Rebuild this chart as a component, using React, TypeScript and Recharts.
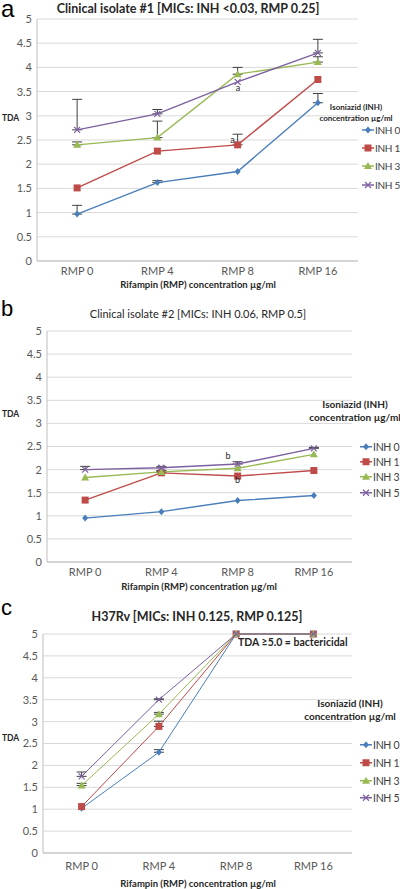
import React from 'react';
import { LineChart, Line, XAxis, YAxis, CartesianGrid, ErrorBar, ReferenceDot } from 'recharts';

// shared categories / series
const categories = ['RMP 0', 'RMP 4', 'RMP 8', 'RMP 16'];
const seriesNames = ['INH 0', 'INH 1', 'INH 3', 'INH 5'];
const yTicks = [0, 0.5, 1, 1.5, 2, 2.5, 3, 3.5, 4, 4.5, 5];

// panel a - clinical isolate #1
const iso1Inh0 = [0.97, 1.62, 1.85, 3.27];
const iso1Inh1 = [1.51, 2.27, 2.4, 3.75];
const iso1Inh3 = [2.4, 2.55, 3.86, 4.11];
const iso1Inh5 = [2.71, 3.04, 3.7, 4.3];
const iso1Err0 = [0.18, 0.04, null, 0.19];
const iso1Err1 = [null, null, 0.22, null];
const iso1Err3 = [0.06, 0.34, 0.14, 0.11];
const iso1Err5 = [0.63, 0.09, null, 0.28];

// panel b - clinical isolate #2
const iso2Inh0 = [0.95, 1.09, 1.33, 1.44];
const iso2Inh1 = [1.34, 1.93, 1.86, 1.98];
const iso2Inh3 = [1.83, 1.95, 2.03, 2.33];
const iso2Inh5 = [2.0, 2.04, 2.12, 2.46];
const iso2Err0 = [null, null, null, null];
const iso2Err1 = [null, 0.03, null, null];
const iso2Err3 = [null, 0.03, null, null];
const iso2Err5 = [0.07, 0.03, 0.05, 0.02];

// panel c - H37Rv
const h37Inh0 = [1.02, 2.3, 5, 5];
const h37Inh1 = [1.06, 2.89, 5, 5];
const h37Inh3 = [1.54, 3.17, 5, 5];
const h37Inh5 = [1.75, 3.5, 5, 5];
const h37Err0 = [null, 0.06, null, null];
const h37Err1 = [null, 0.12, null, null];
const h37Err3 = [0.05, 0.04, null, null];
const h37Err5 = [0.1, 0.02, null, null];

const colors = ['#4a7ebb', '#be4b48', '#98b954', '#7d60a0'];
const FONT = 'Lato, "Liberation Sans", sans-serif';

type Err = (number | null)[];

const buildRows = (values: number[][], errors: Err[]) =>
  categories.map((cat, i) => {
    const row: any = { cat };
    values.forEach((v, s) => {
      row[`s${s}`] = v[i];
      const e = errors[s][i];
      row[`e${s}`] = e == null ? null : [0, e];
    });
    return row;
  });

const markerShape = (kind: number, cx: number, cy: number, color: string, key?: string) => {
  if (kind === 0)
    return <path key={key} d={`M${cx},${cy - 3.5}L${cx + 3},${cy}L${cx},${cy + 3.5}L${cx - 3},${cy}Z`} fill={color} />;
  if (kind === 1) return <rect key={key} x={cx - 3.5} y={cy - 3.5} width={7} height={7} fill={color} />;
  if (kind === 2) return <path key={key} d={`M${cx},${cy - 4}L${cx + 4},${cy + 3}L${cx - 4},${cy + 3}Z`} fill={color} />;
  return (
    <path
      key={key}
      d={`M${cx - 3},${cy - 3}L${cx + 3},${cy + 3}M${cx - 3},${cy + 3}L${cx + 3},${cy - 3}`}
      stroke={color}
      strokeWidth={1.2}
    />
  );
};

type TextProps = { x: number; y: number; style?: React.CSSProperties; children: React.ReactNode };

const Centered: React.FC<TextProps> = ({ x, y, style, children }) => (
  <div
    style={{
      position: 'absolute',
      left: x,
      top: y,
      transform: 'translate(-50%, -50%)',
      whiteSpace: 'nowrap',
      lineHeight: 1,
      ...style,
    }}
  >
    {children}
  </div>
);

const LeftText: React.FC<TextProps> = ({ x, y, style, children }) => (
  <div
    style={{ position: 'absolute', left: x, top: y, transform: 'translateY(-50%)', whiteSpace: 'nowrap', lineHeight: 1, ...style }}
  >
    {children}
  </div>
);

// big panel letter, top = top of a 14px line box
const PanelLetter: React.FC<{ top: number; size: number; children: React.ReactNode }> = ({ top, size, children }) => (
  <div
    style={{
      position: 'absolute',
      left: 1,
      top,
      fontSize: size,
      lineHeight: '14px',
      height: 14,
      fontFamily: '"Liberation Sans", sans-serif',
      color: '#000',
    }}
  >
    {children}
  </div>
);

interface PanelProps {
  top: number;
  plotTop: number;
  plotBottom: number;
  plotLeft: number;
  plotRight: number;
  tickGap: number;
  tickMarginY: number;
  strokeWidth: number;
  values: number[][];
  errors: Err[];
  children?: React.ReactNode;
}

const Panel: React.FC<PanelProps> = ({
  top,
  plotTop,
  plotBottom,
  plotLeft,
  plotRight,
  tickGap,
  tickMarginY,
  strokeWidth,
  values,
  errors,
  children,
}) => {
  const rows = buildRows(values, errors);
  const xAxisHeight = 20;
  const height = plotBottom - top + xAxisHeight;
  // excel-like: categories sit in the middle of equal bands
  const halfBand = (plotRight - plotLeft) / categories.length / 2;
  return (
    <div style={{ position: 'absolute', left: 0, top }}>
      <LineChart
        width={400}
        height={height}
        data={rows}
        margin={{ top: plotTop - top, right: 400 - plotRight, left: 0, bottom: 0 }}
      >
        <CartesianGrid vertical={false} stroke="#d9d9d9" />
        <XAxis
          dataKey="cat"
          height={xAxisHeight}
          padding={{ left: halfBand, right: halfBand }}
          tickLine={false}
          tickSize={0}
          tickMargin={tickGap}
          axisLine={{ stroke: '#bfbfbf' }}
          tick={{ fill: '#595959', fontSize: 11, fontFamily: FONT }}
        />
        <YAxis
          width={plotLeft}
          domain={[0, 5]}
          ticks={yTicks}
          interval={0}
          tickLine={false}
          tickSize={0}
          tickMargin={tickMarginY}
          axisLine={{ stroke: '#bfbfbf' }}
          tick={{ fill: '#595959', fontSize: 11, fontFamily: FONT }}
        />
        {seriesNames.map((name, s) => (
          <Line
            key={name}
            name={name}
            dataKey={`s${s}`}
            type="linear"
            stroke={colors[s]}
            strokeWidth={strokeWidth}
            isAnimationActive={false}
            dot={(p: any) => markerShape(s, p.cx, p.cy, colors[s], `${name}-${p.index}`)}
            activeDot={false}
          >
            <ErrorBar dataKey={`e${s}`} direction="y" width={5} stroke="#404040" strokeWidth={1} />
          </Line>
        ))}
        {children}
      </LineChart>
    </div>
  );
};

const Legend: React.FC<{ titleX: number; titleY: number[]; titleSize: number; items: number[]; lineX: number; textSize: number }> = ({
  titleX,
  titleY,
  titleSize,
  items,
  lineX,
  textSize,
}) => (
  <>
    <Centered x={titleX} y={titleY[0]} style={{ fontSize: titleSize, fontWeight: 700, color: '#262626' }}>
      Isoniazid (INH)
    </Centered>
    <Centered x={titleX} y={titleY[1]} style={{ fontSize: titleSize, fontWeight: 700, color: '#262626' }}>
      concentration µg/ml
    </Centered>
    {seriesNames.map((name, s) => (
      <LeftText
        key={name}
        x={lineX}
        y={items[s]}
        style={{ fontSize: textSize, letterSpacing: -0.3, color: '#404040', display: 'flex', alignItems: 'center' }}
      >
        <svg width={12} height={10} style={{ marginRight: 1 }}>
          <line x1={0} x2={12} y1={5} y2={5} stroke={colors[s]} strokeWidth={1.5} />
          {markerShape(s, 6, 5, colors[s])}
        </svg>
        {name}
      </LeftText>
    ))}
  </>
);

const annoLabel = (value: string, position: any, offset = 0) => ({
  value,
  position,
  offset,
  fill: '#262626',
  fontSize: 9,
  fontFamily: FONT,
});

const App: React.FC = () => (
  <div
    style={{
      position: 'absolute',
      left: 0,
      top: 0,
      width: 400,
      height: 889,
      overflow: 'hidden',
      background: '#fff',
      fontFamily: FONT,
      color: '#262626',
    }}
  >
    {/* panel a */}
    <Panel
      top={0}
      plotTop={19}
      plotBottom={261}
      plotLeft={37}
      plotRight={358}
      tickGap={6}
      tickMarginY={5}
      strokeWidth={1.4}
      values={[iso1Inh0, iso1Inh1, iso1Inh3, iso1Inh5]}
      errors={[iso1Err0, iso1Err1, iso1Err3, iso1Err5]}
    >
      <ReferenceDot x="RMP 8" y={3.57} r={0} fill="none" stroke="none" label={annoLabel('a', 'right', -2)} />
      <ReferenceDot x="RMP 8" y={2.5} r={0} fill="none" stroke="none" label={annoLabel('a', 'left', 3)} />
    </Panel>
    <PanelLetter top={2} size={24}>a</PanelLetter>
    <Centered x={188} y={9} style={{ fontSize: 12.5, fontWeight: 700 }}>
      Clinical isolate #1 [MICs: INH &lt;0.03, RMP 0.25]
    </Centered>
    <Centered x={198} y={285} style={{ fontSize: 9.5, fontWeight: 700 }}>
      Rifampin (RMP) concentration µg/ml
    </Centered>
    <LeftText x={2} y={118} style={{ fontSize: 8.5, fontWeight: 700 }}>TDA</LeftText>
    <Legend titleX={356} titleY={[107, 118]} titleSize={8} items={[130, 148, 166, 185]} lineX={362} textSize={10} />

    {/* panel b */}
    <Panel
      top={300}
      plotTop={331}
      plotBottom={562}
      plotLeft={47}
      plotRight={352}
      tickGap={6}
      tickMarginY={5}
      strokeWidth={1.4}
      values={[iso2Inh0, iso2Inh1, iso2Inh3, iso2Inh5]}
      errors={[iso2Err0, iso2Err1, iso2Err3, iso2Err5]}
    >
      <ReferenceDot x="RMP 8" y={2.29} r={0} fill="none" stroke="none" label={annoLabel('b', 'left', 7)} />
      <ReferenceDot x="RMP 8" y={1.77} r={0} fill="none" stroke="none" label={annoLabel('b', 'center')} />
    </Panel>
    <PanelLetter top={302} size={22}>b</PanelLetter>
    <Centered x={198} y={313} style={{ fontSize: 11 }}>
      Clinical isolate #2 [MICs: INH 0.06, RMP 0.5]
    </Centered>
    <Centered x={199} y={587} style={{ fontSize: 9.5, fontWeight: 700 }}>
      Rifampin (RMP) concentration µg/ml
    </Centered>
    <LeftText x={2} y={414} style={{ fontSize: 8.5, fontWeight: 700 }}>TDA</LeftText>
    <Legend titleX={355} titleY={[404, 417]} titleSize={10} items={[447, 462, 477, 493]} lineX={360} textSize={10.5} />

    {/* panel c */}
    <Panel
      top={600}
      plotTop={634}
      plotBottom={853}
      plotLeft={43}
      plotRight={352}
      tickGap={9}
      tickMarginY={5}
      strokeWidth={1}
      values={[h37Inh0, h37Inh1, h37Inh3, h37Inh5]}
      errors={[h37Err0, h37Err1, h37Err3, h37Err5]}
    />
    <PanelLetter top={601} size={22}>c</PanelLetter>
    <Centered x={197} y={617} style={{ fontSize: 12.5, fontWeight: 700 }}>
      H37Rv [MICs: INH 0.125, RMP 0.125]
    </Centered>
    <LeftText x={238} y={642} style={{ fontSize: 10.5, fontWeight: 700 }}>TDA ≥5.0 = bactericidal</LeftText>
    <Centered x={198} y={884} style={{ fontSize: 9.5, fontWeight: 700 }}>
      Rifampin (RMP) concentration µg/ml
    </Centered>
    <LeftText x={2} y={738} style={{ fontSize: 8.5, fontWeight: 700 }}>TDA</LeftText>
    <Legend titleX={350} titleY={[703, 716]} titleSize={10} items={[745, 763, 781, 798]} lineX={360} textSize={10.5} />
  </div>
);

export default App;
